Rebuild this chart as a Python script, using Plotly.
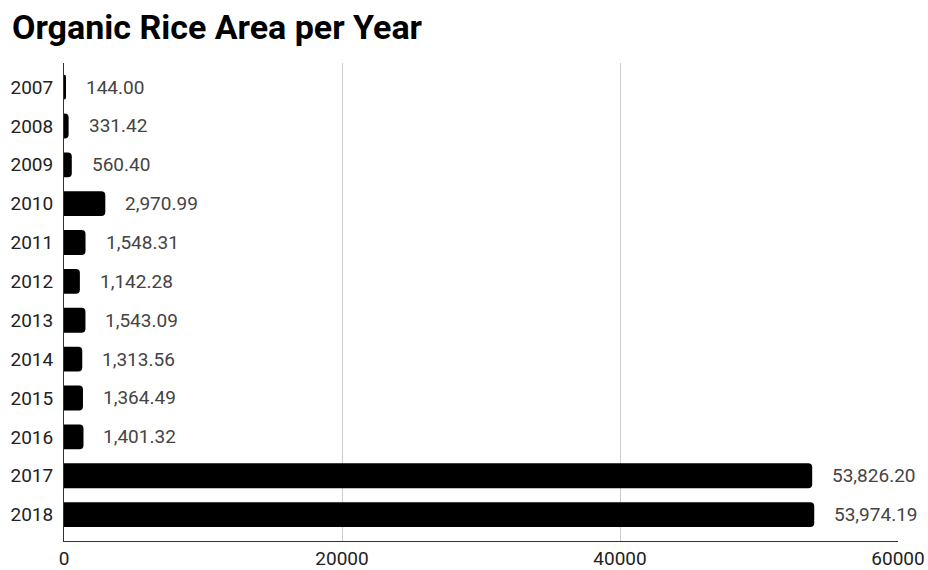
import plotly.graph_objects as go

years = ["2007", "2008", "2009", "2010", "2011", "2012", "2013", "2014", "2015", "2016", "2017", "2018"]
areas = [144.00, 331.42, 560.40, 2970.99, 1548.31, 1142.28, 1543.09, 1313.56, 1364.49, 1401.32, 53826.20, 53974.19]
x_ticks = [0, 20000, 40000, 60000]

fig = go.Figure()
fig.add_trace(go.Bar(
    x=areas, y=years, orientation="h",
    marker=dict(color="#000000", cornerradius=4, line=dict(width=0)),
    width=0.64,
    hoverinfo="x+y",
))

for i, xv in enumerate(areas):
    fig.add_annotation(
        x=xv, y=i, xref="x", yref="y",
        text=f"{xv:,.2f}", showarrow=False,
        xanchor="left", yanchor="middle", xshift=18,
        font=dict(family="Roboto", size=19, color="#444444"),
    )

fig.update_layout(
    width=928, height=570,
    margin=dict(l=64, r=30, t=63, b=29, autoexpand=False),
    plot_bgcolor="white", paper_bgcolor="white",
    showlegend=False,
    title=dict(
        text="<b>Organic Rice Area per Year</b>",
        x=12 / 928, xanchor="left", xref="container",
        y=1 - 27 / 570, yanchor="middle", yref="container",
        font=dict(family="Roboto", size=34, color="#000000"),
    ),
    xaxis=dict(
        range=[0, 60000], tickvals=x_ticks, tickformat="d",
        showgrid=True, gridcolor="#cccccc", gridwidth=1,
        zeroline=False, showline=True, linecolor="#333333", linewidth=1,
        ticks="", tickfont=dict(family="Roboto", size=19, color="#222222"),
        fixedrange=True, automargin=False,
    ),
    yaxis=dict(
        type="category", categoryorder="array", categoryarray=years,
        range=[len(years) - 1 + 0.68, -0.62],
        showgrid=False, zeroline=False,
        showline=True, linecolor="#333333", linewidth=1,
        ticks="", ticklabelstandoff=6, automargin=False,
        tickfont=dict(family="Roboto", size=19, color="#222222"),
    ),
)

fig.write_html("out.html")
